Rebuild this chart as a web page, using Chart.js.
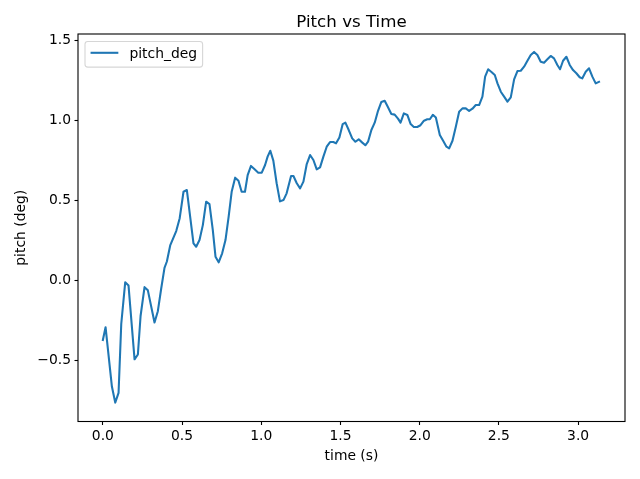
<!DOCTYPE html>
<html>
<head>
<meta charset="utf-8">
<script src="https://cdn.jsdelivr.net/npm/chart.js@4"></script>
<style>
  html, body { margin: 0; padding: 0; background: #ffffff; }
  #wrap { width: 640px; height: 479px; }
</style>
</head>
<body>
<div id="wrap"><canvas id="c" width="640" height="479"></canvas></div>
<script>
// ---- data ----
const chartTitle = "Pitch vs Time";
const xLabel = "time (s)";
const yLabel = "pitch (deg)";
const seriesName = "pitch_deg";

const timeValues = [
  0.000, 0.017, 0.057, 0.078, 0.099, 0.116, 0.141, 0.162, 0.200, 0.221,
  0.238, 0.263, 0.284, 0.326, 0.347, 0.368, 0.389, 0.404, 0.425, 0.463,
  0.485, 0.509, 0.530, 0.572, 0.589, 0.610, 0.631, 0.652, 0.673, 0.694,
  0.711, 0.731, 0.753, 0.774, 0.794, 0.813, 0.835, 0.856, 0.876, 0.897,
  0.914, 0.935, 0.956, 0.981, 1.003, 1.024, 1.040, 1.057, 1.076, 1.097,
  1.118, 1.140, 1.160, 1.188, 1.203, 1.224, 1.245, 1.266, 1.287, 1.308,
  1.329, 1.350, 1.371, 1.392, 1.413, 1.434, 1.455, 1.472, 1.493, 1.514,
  1.531, 1.552, 1.574, 1.594, 1.615, 1.636, 1.657, 1.674, 1.695, 1.716,
  1.737, 1.758, 1.779, 1.800, 1.821, 1.842, 1.863, 1.879, 1.900, 1.922,
  1.943, 1.963, 1.984, 2.005, 2.027, 2.048, 2.064, 2.083, 2.102, 2.127,
  2.148, 2.169, 2.186, 2.207, 2.228, 2.249, 2.270, 2.291, 2.312, 2.333,
  2.354, 2.375, 2.396, 2.413, 2.432, 2.453, 2.474, 2.491, 2.512, 2.533,
  2.554, 2.575, 2.596, 2.617, 2.638, 2.659, 2.680, 2.701, 2.722, 2.743,
  2.764, 2.785, 2.806, 2.827, 2.848, 2.869, 2.886, 2.905, 2.926, 2.947,
  2.968, 2.989, 3.010, 3.026, 3.048, 3.069, 3.090, 3.111, 3.132
];

const pitchValues = [
  -0.37, -0.29, -0.66, -0.76, -0.70, -0.27, -0.01, -0.03, -0.49, -0.46,
  -0.22, -0.04, -0.06, -0.26, -0.19, -0.05, 0.08, 0.12, 0.22, 0.31,
  0.39, 0.555, 0.566, 0.233, 0.212, 0.254, 0.347, 0.493, 0.478, 0.316,
  0.150, 0.115, 0.171, 0.254, 0.400, 0.555, 0.643, 0.624, 0.555, 0.555,
  0.659, 0.716, 0.697, 0.674, 0.674, 0.722, 0.774, 0.811, 0.749, 0.608,
  0.495, 0.503, 0.545, 0.653, 0.653, 0.608, 0.576, 0.618, 0.728, 0.784,
  0.753, 0.695, 0.707, 0.774, 0.836, 0.865, 0.865, 0.857, 0.894, 0.977,
  0.986, 0.940, 0.888, 0.867, 0.882, 0.863, 0.845, 0.867, 0.940, 0.986,
  1.060, 1.115, 1.123, 1.082, 1.040, 1.036, 1.011, 0.986, 1.044, 1.034,
  0.977, 0.959, 0.959, 0.970, 0.998, 1.007, 1.007, 1.035, 1.018, 0.909,
  0.873, 0.836, 0.826, 0.873, 0.961, 1.054, 1.075, 1.075, 1.059, 1.073,
  1.096, 1.096, 1.148, 1.273, 1.319, 1.302, 1.283, 1.231, 1.179, 1.148,
  1.117, 1.144, 1.256, 1.308, 1.310, 1.335, 1.372, 1.408, 1.427, 1.408,
  1.366, 1.360, 1.381, 1.402, 1.387, 1.346, 1.319, 1.372, 1.397, 1.346,
  1.314, 1.294, 1.269, 1.262, 1.304, 1.325, 1.273, 1.231, 1.241
];

const xTickValues = [0.0, 0.5, 1.0, 1.5, 2.0, 2.5, 3.0];
const yTickValues = [-0.5, 0.0, 0.5, 1.0, 1.5];
const xRange = [-0.157, 3.296];
const yRange = [-0.878, 1.539];

// ---- styling ----
const FONT = "DejaVu Sans";
const FS = 13.89;
const LINE_COLOR = "#1f77b4";
Chart.defaults.font.family = FONT;
Chart.defaults.font.size = FS;
Chart.defaults.color = "#000000";

const fmt = v => v.toFixed(1).replace("-", "\u2212");

const framePlugin = {
  id: "frame",
  afterDatasetsDraw(chart) {
    const {ctx, chartArea: a} = chart;
    ctx.save();
    ctx.strokeStyle = "#000000";
    ctx.lineWidth = 1.1;
    ctx.strokeRect(a.left, a.top, a.right - a.left, a.bottom - a.top);
    ctx.restore();
  },
  afterDraw(chart) {
    const {ctx, chartArea: a} = chart;
    ctx.save();
    // title centred over the axes
    ctx.fillStyle = "#000000";
    ctx.font = "16.67px '" + FONT + "'";
    ctx.textAlign = "center";
    ctx.textBaseline = "alphabetic";
    ctx.fillText(chartTitle, (a.left + a.right) / 2, 27);

    // legend box (upper left)
    const ds = chart.data.datasets[0];
    ctx.font = FS + "px '" + FONT + "'";
    const tw = ctx.measureText(ds.label).width;
    const bx = a.left + 7, by = a.top + 7.5;
    const pad = 0.4 * FS;
    const handle = 2 * FS;
    const gap = 0.8 * FS;
    const bw = pad + handle + gap + tw + pad;
    const bh = 25.6;
    const r = 2.8;
    ctx.beginPath();
    ctx.moveTo(bx + r, by);
    ctx.lineTo(bx + bw - r, by);
    ctx.arcTo(bx + bw, by, bx + bw, by + r, r);
    ctx.lineTo(bx + bw, by + bh - r);
    ctx.arcTo(bx + bw, by + bh, bx + bw - r, by + bh, r);
    ctx.lineTo(bx + r, by + bh);
    ctx.arcTo(bx, by + bh, bx, by + bh - r, r);
    ctx.lineTo(bx, by + r);
    ctx.arcTo(bx, by, bx + r, by, r);
    ctx.closePath();
    ctx.fillStyle = "rgba(255,255,255,0.8)";
    ctx.fill();
    ctx.strokeStyle = "rgba(204,204,204,0.8)";
    ctx.lineWidth = 1.1;
    ctx.stroke();

    ctx.beginPath();
    ctx.strokeStyle = ds.borderColor;
    ctx.lineWidth = ds.borderWidth;
    ctx.moveTo(bx + pad, by + 11.3);
    ctx.lineTo(bx + pad + handle, by + 11.3);
    ctx.stroke();

    ctx.fillStyle = "#000000";
    ctx.textAlign = "left";
    ctx.textBaseline = "alphabetic";
    ctx.fillText(ds.label, bx + pad + handle + gap, by + 16.8);
    ctx.restore();
  }
};

new Chart(document.getElementById("c"), {
  type: "line",
  data: {
    datasets: [{
      label: seriesName,
      data: timeValues.map((t, i) => ({x: t, y: pitchValues[i]})),
      borderColor: LINE_COLOR,
      backgroundColor: LINE_COLOR,
      borderWidth: 2.08,
      borderJoinStyle: "round",
      borderCapStyle: "square",
      pointRadius: 0,
      tension: 0,
      fill: false
    }]
  },
  options: {
    responsive: false,
    animation: false,
    devicePixelRatio: 1,
    layout: { padding: { left: 0, right: 15, top: 34, bottom: 0 } },
    plugins: {
      legend: { display: false },
      title: { display: false },
      tooltip: { enabled: false }
    },
    scales: {
      x: {
        type: "linear",
        min: xRange[0],
        max: xRange[1],
        afterBuildTicks(s) { s.ticks = xTickValues.map(v => ({value: v})); },
        afterFit(s) { s.height = 57.5; },
        ticks: {
          callback: v => fmt(v),
          color: "#000000",
          padding: 3.5,
          maxRotation: 0,
          autoSkip: false,
          font: { family: FONT, size: FS }
        },
        grid: {
          display: true,
          drawOnChartArea: false,
          drawTicks: true,
          tickLength: 3.5,
          tickColor: "#000000",
          tickWidth: 1.1
        },
        border: { display: false },
        title: {
          display: true,
          text: xLabel,
          color: "#000000",
          font: { family: FONT, size: FS },
          padding: { top: 0, bottom: 14.5 }
        }
      },
      y: {
        type: "linear",
        min: yRange[0],
        max: yRange[1],
        afterBuildTicks(s) { s.ticks = yTickValues.map(v => ({value: v})); },
        afterFit(s) { s.width = 78; },
        ticks: {
          callback: v => fmt(v),
          color: "#000000",
          padding: 3.5,
          autoSkip: false,
          font: { family: FONT, size: FS }
        },
        grid: {
          display: true,
          drawOnChartArea: false,
          drawTicks: true,
          tickLength: 3.5,
          tickColor: "#000000",
          tickWidth: 1.1
        },
        border: { display: false },
        title: {
          display: true,
          text: yLabel,
          color: "#000000",
          font: { family: FONT, size: FS },
          padding: { top: 13.3, bottom: 0 }
        }
      }
    }
  },
  plugins: [framePlugin]
});
</script>
</body>
</html>
